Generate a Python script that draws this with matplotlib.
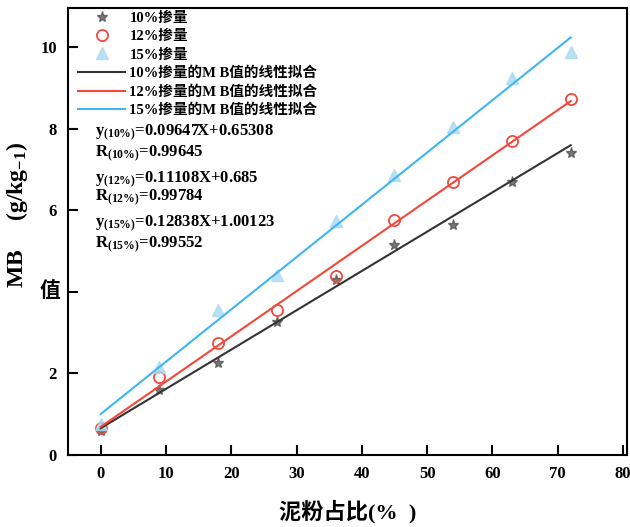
import numpy as np
import matplotlib.pyplot as plt

plt.rcParams['font.family'] = ['Liberation Serif', 'Noto Sans CJK SC']
plt.rcParams['font.weight'] = 'bold'
plt.rcParams['axes.labelweight'] = 'bold'
plt.rcParams['mathtext.fontset'] = 'custom'
plt.rcParams['mathtext.rm'] = 'Liberation Serif:bold'
plt.rcParams['mathtext.it'] = 'Liberation Serif:bold'
plt.rcParams['mathtext.bf'] = 'Liberation Serif:bold'

# data
x = np.array([0, 9, 18, 27, 36, 45, 54, 63, 72])
mb10 = [0.58, 1.6, 2.25, 3.25, 4.3, 5.15, 5.65, 6.7, 7.42]
mb12 = [0.65, 1.9, 2.74, 3.55, 4.4, 5.76, 6.7, 7.7, 8.74]
mb15 = [0.75, 2.15, 3.55, 4.42, 5.75, 6.87, 8.05, 9.26, 9.88]

# linear fits given in the chart
k10, b10, r10 = 0.09647, 0.65308, 0.99645
k12, b12, r12 = 0.11108, 0.685, 0.99784
k15, b15, r15 = 0.12838, 1.00123, 0.99552

xticks = [0, 10, 20, 30, 40, 50, 60, 70, 80]
yticks = [0, 2, 4, 6, 8, 10]
ylabels = ['0', '2', '', '6', '8', '10']

fig = plt.figure(figsize=(6.3, 5.27), dpi=100)
ax = fig.add_axes([0.108, 0.137, 0.887, 0.848])

xf = np.array([0, 72])
ax.plot(x, mb10, ls='none', marker='*', ms=8, color='#555555', alpha=0.8, label='10%掺量')
ax.plot(x, mb12, ls='none', marker='o', ms=8, mfc='none', mec='#f04a3c', mew=1.3, label='12%掺量')
ax.plot(x, mb15, ls='none', marker='^', ms=9, color='#a9d9f2', alpha=0.8, label='15%掺量')
ax.plot(xf, k10 * xf + b10, color='#333333', lw=1.5, label='10%掺量的M B值的线性拟合')
ax.plot(xf, k12 * xf + b12, color='#f4473a', lw=1.5, label='12%掺量的M B值的线性拟合')
ax.plot(xf, k15 * xf + b15, color='#3fb6f3', lw=1.5, label='15%掺量的M B值的线性拟合')

ax.set_xlim(-5, 80.6)
ax.set_ylim(0, 10.97)
ax.set_xticks(xticks)
ax.set_yticks(yticks)
ax.set_yticklabels(ylabels)
ax.tick_params(direction='in', length=7, width=1.5, labelsize=12, pad=8)
for s in ax.spines.values():
    s.set_linewidth(1.5)

ax.set_xlabel('泥粉占比(%  )', fontsize=16, labelpad=13)
ax.set_ylabel('MB     (g/kg$_{-1}$)', fontsize=17)
ax.yaxis.set_label_coords(-0.068, 0.537)
ax.text(-0.032, 4, '值', transform=ax.get_yaxis_transform(), fontsize=15,
        ha='center', va='center', fontweight='heavy')

leg = ax.legend(loc='upper left', bbox_to_anchor=(0.0, 1.015), frameon=False,
                fontsize=10.5, handlelength=3.2, handletextpad=0.3,
                labelspacing=0.35, borderaxespad=0.3)

eqs = [
    (r'y$_{(10\%)}$' + '={:.5f}X+{:.5f}'.format(k10, b10), 0.720),
    (r'R$_{(10\%)}$' + '={:.5f}'.format(r10), 0.672),
    (r'y$_{(12\%)}$' + '={:.5f}X+{:.3f}'.format(k12, b12), 0.616),
    (r'R$_{(12\%)}$' + '={:.5f}'.format(r12), 0.574),
    (r'y$_{(15\%)}$' + '={:.5f}X+{:.5f}'.format(k15, b15), 0.517),
    (r'R$_{(15\%)}$' + '={:.5f}'.format(r15), 0.470),
]
for s, yy in eqs:
    ax.text(0.048, yy, s, transform=ax.transAxes, fontsize=12, va='center', ha='left')

fig.savefig('out.png', dpi=100)
